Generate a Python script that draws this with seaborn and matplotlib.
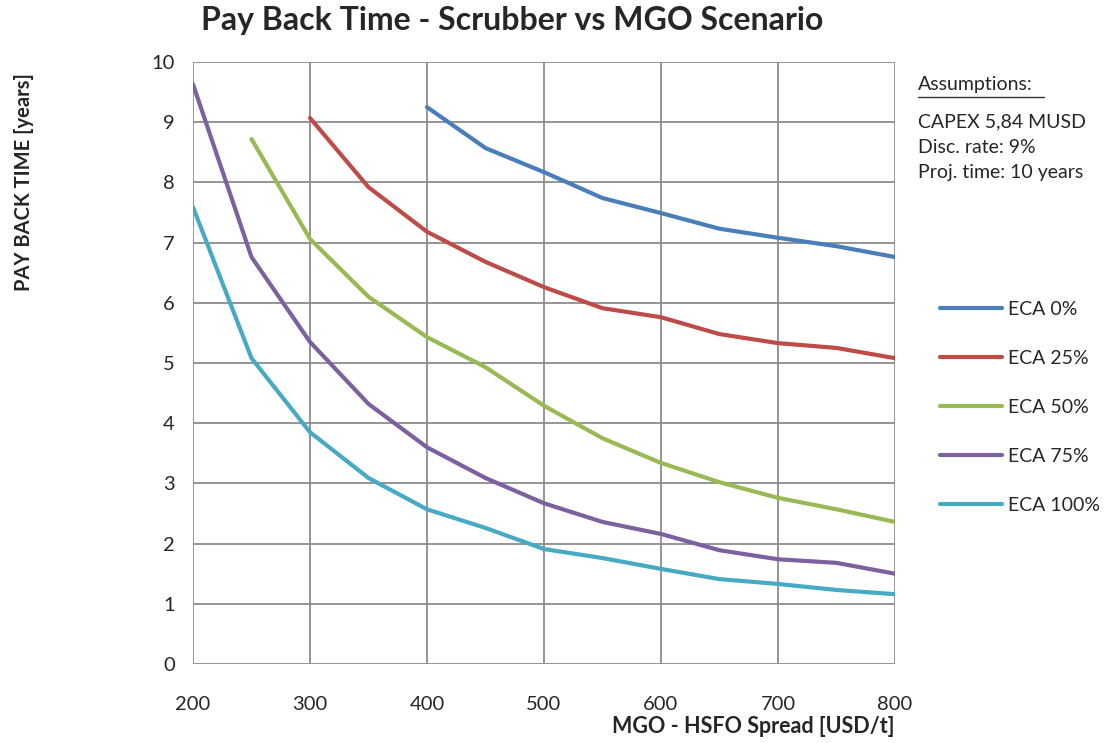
import pandas as pd
import numpy as np
import matplotlib
matplotlib.use('Agg')
import matplotlib.pyplot as plt
import seaborn as sns

# Data
spread = [200, 250, 300, 350, 400, 450, 500, 550, 600, 650, 700, 750, 800]
eca_0 = [None, None, None, None, 9.25, 8.57, 8.17, 7.74, 7.49, 7.23, 7.08, 6.94, 6.76]
eca_25 = [None, None, 9.07, 7.92, 7.18, 6.68, 6.26, 5.91, 5.76, 5.48, 5.33, 5.25, 5.08]
eca_50 = [None, 8.72, 7.06, 6.10, 5.43, 4.93, 4.29, 3.75, 3.34, 3.02, 2.76, 2.57, 2.36]
eca_75 = [9.63, 6.76, 5.35, 4.32, 3.60, 3.09, 2.67, 2.36, 2.16, 1.89, 1.74, 1.68, 1.50]
eca_100 = [7.59, 5.08, 3.85, 3.09, 2.57, 2.26, 1.91, 1.76, 1.58, 1.41, 1.33, 1.23, 1.16]

series_names = ['ECA 0%', 'ECA 25%', 'ECA 50%', 'ECA 75%', 'ECA 100%']
colors = ['#4A7EBB', '#BE4B48', '#98B954', '#7D60A0', '#46AAC5']

rows = []
for name, vals in zip(series_names, [eca_0, eca_25, eca_50, eca_75, eca_100]):
    for x, y in zip(spread, vals):
        if y is not None:
            rows.append({'Spread': x, 'Years': y, 'Scenario': name})
df = pd.DataFrame(rows)

sns.set_style('white')
plt.rcParams['font.family'] = ['Lato', 'DejaVu Sans']

fig = plt.figure(figsize=(11.06, 7.43), dpi=100)
ax = fig.add_axes([0.1745, 0.1063, 0.6347, 0.8103])

sns.lineplot(data=df, x='Spread', y='Years', hue='Scenario', hue_order=series_names,
             palette=colors, linewidth=3.0, ax=ax, legend=False)

ax.set_xlim(200, 800)
ax.set_ylim(0, 10)
ax.set_xticks(range(200, 801, 100))
ax.set_yticks(range(0, 11))
ax.grid(True, color='#8C8C8C', linewidth=1.3)
ax.set_axisbelow(True)
for s in ax.spines.values():
    s.set_visible(False)
ax.tick_params(axis='both', direction='out', length=7, width=1.3, color='#8C8C8C',
               labelsize=14.5, pad=6)
ax.tick_params(axis='x', pad=16)
ax.set_xlabel('')
ax.set_ylabel('')

fig.suptitle('Pay Back Time - Scrubber vs MGO Scenario', x=0.463, y=0.992,
             fontsize=23, fontweight='bold')
fig.text(0.809, 0.008, 'MGO - HSFO Spread [USD/t]', ha='right', va='bottom',
         fontsize=15.5, fontweight='bold')
fig.text(0.022, 0.755, 'PAY BACK TIME [years]', rotation=90, ha='center', va='center',
         fontsize=14.5, fontweight='bold')

# Assumptions box
fig.text(0.830, 0.886, 'Assumptions:', fontsize=14, ha='left', va='center')
fig.add_artist(plt.Line2D([0.830, 0.944], [0.870, 0.870], color='#333333', linewidth=1))
fig.text(0.830, 0.836, 'CAPEX 5,84 MUSD', fontsize=14, ha='left', va='center')
fig.text(0.830, 0.802, 'Disc. rate: 9%', fontsize=14, ha='left', va='center')
fig.text(0.830, 0.768, 'Proj. time: 10 years', fontsize=14, ha='left', va='center')

handles = [plt.Line2D([0], [0], color=c, linewidth=3) for c in colors]
fig.legend(handles, series_names, loc='upper left', bbox_to_anchor=(0.843, 0.606),
           frameon=False, fontsize=14, handlelength=3.2, handletextpad=0.3,
           labelspacing=1.65, borderaxespad=0)

fig.savefig('out.png', dpi=100)
